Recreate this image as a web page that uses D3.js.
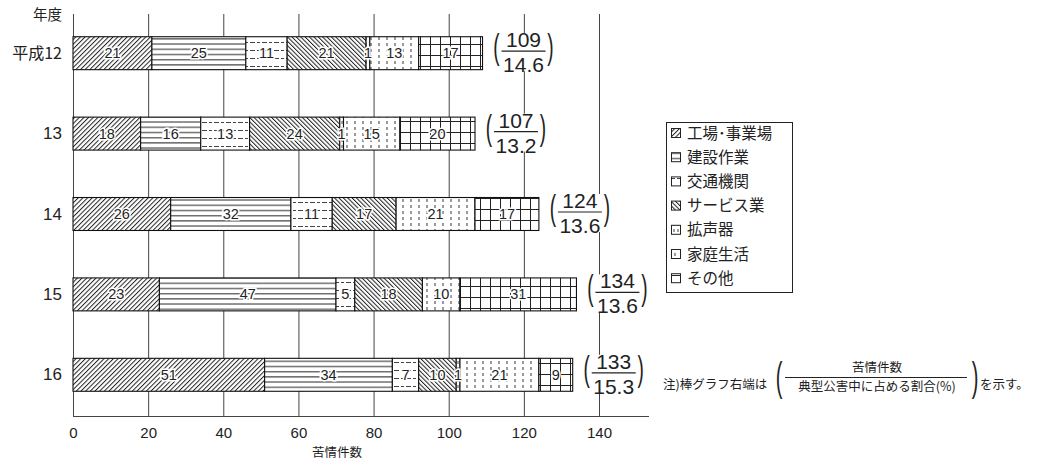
<!DOCTYPE html>
<html><head><meta charset="utf-8">
<script src="https://cdn.jsdelivr.net/npm/d3@7"></script>
<style>
html,body{margin:0;padding:0;background:#fff;}
svg{display:block;}
</style>
</head><body>
<svg id="chart" width="1037" height="463"></svg>
<script>
// ---- data ----
const years = ["平成12", "13", "14", "15", "16"];
const categories = ["工場･事業場", "建設作業", "交通機関", "サービス業", "拡声器", "家庭生活", "その他"];
const factory      = [21, 18, 26, 23, 51];
const construction = [25, 16, 32, 47, 34];
const traffic      = [11, 13, 11, 5, 7];
const service      = [21, 24, 17, 18, 10];
const speaker      = [1, 1, 0, 0, 1];
const household    = [13, 15, 21, 10, 21];
const other        = [17, 20, 17, 31, 9];
const totals = [109, 107, 124, 134, 133];
const shares = ["14.6", "13.2", "13.6", "13.6", "15.3"];
const xTicks = [0, 20, 40, 60, 80, 100, 120, 140];

const series = [factory, construction, traffic, service, speaker, household, other];
const rows = years.map((y, i) => {
  const r = {year: y};
  categories.forEach((c, k) => r[c] = series[k][i]);
  return r;
});

const svg = d3.select("#chart");
const JP = "'Noto Sans CJK JP','Noto Sans',sans-serif";
const LAT = "'Liberation Sans',Arial,sans-serif";
const ink = "#222";

// ---- patterns ----
const defs = svg.append("defs");
const patIds = ["pFactory", "pConstr", "pTraffic", "pService", "pSpeaker", "pHome", "pOther"];
function pat(id, w, h, tf) {
  const p = defs.append("pattern").attr("id", id).attr("patternUnits", "userSpaceOnUse")
    .attr("width", w).attr("height", h);
  if (tf) p.attr("patternTransform", tf);
  p.append("rect").attr("width", w).attr("height", h).attr("fill", "#fff");
  return p;
}
let p;
p = pat("pFactory", 3.3, 10, "rotate(45)");
p.append("line").attr("x1", 0.5).attr("x2", 0.5).attr("y1", 0).attr("y2", 10).attr("stroke", ink).attr("stroke-width", 1);
p = pat("pConstr", 10, 5.2);
p.append("line").attr("x1", 0).attr("x2", 10).attr("y1", 2.5).attr("y2", 2.5).attr("stroke", ink).attr("stroke-width", 1);
p = pat("pTraffic", 12, 8);
p.append("line").attr("x1", 0).attr("x2", 12).attr("y1", 2.5).attr("y2", 2.5).attr("stroke", "#444").attr("stroke-width", 1).attr("stroke-dasharray", "3,2");
p = pat("pService", 3.1, 10, "rotate(-45)");
p.append("line").attr("x1", 0.5).attr("x2", 0.5).attr("y1", 0).attr("y2", 10).attr("stroke", ink).attr("stroke-width", 1);
p = pat("pSpeaker", 4, 6);
p.append("line").attr("x1", 2).attr("x2", 2).attr("y1", 1).attr("y2", 4).attr("stroke", "#444").attr("stroke-width", 1);
p = pat("pHome", 8, 6);
p.append("line").attr("x1", 3).attr("x2", 3).attr("y1", 1).attr("y2", 4).attr("stroke", "#555").attr("stroke-width", 1.2);
p = pat("pOther", 10, 11);
p.append("line").attr("x1", 0).attr("x2", 10).attr("y1", 0.5).attr("y2", 0.5).attr("stroke", ink).attr("stroke-width", 1);
p.append("line").attr("x1", 0.5).attr("x2", 0.5).attr("y1", 0).attr("y2", 11).attr("stroke", ink).attr("stroke-width", 1);

// ---- scales ----
const x = d3.scaleLinear().domain([0, 140]).range([73, 599]);
const y = d3.scaleBand().domain(years).range([13, 415]).paddingInner(0.59).paddingOuter(0.295);

// ---- grid ----
svg.append("g").selectAll("line").data(xTicks.slice(1)).join("line")
  .attr("x1", d => x(d) + 0.5).attr("x2", d => x(d) + 0.5)
  .attr("y1", 14).attr("y2", 416).attr("stroke", "#444").attr("stroke-width", 1);

// ---- axis ----
const xAxis = svg.append("g").attr("transform", "translate(0,416.5)")
  .call(d3.axisBottom(x).tickValues(xTicks).tickSize(0).tickPadding(11));
xAxis.select(".domain").remove();
xAxis.selectAll("text").attr("font-family", LAT).attr("font-size", 15).attr("fill", "#222");
svg.append("line").attr("x1", 73).attr("x2", 649).attr("y1", 416.5).attr("y2", 416.5).attr("stroke", "#444");
svg.append("line").attr("x1", 73.5).attr("x2", 73.5).attr("y1", 14).attr("y2", 416).attr("stroke", "#444");

svg.append("text").attr("x", 337).attr("y", 457).attr("text-anchor", "middle")
  .attr("font-family", JP).attr("font-size", 12.5).attr("fill", "#222").text("苦情件数");

// y labels
svg.append("text").attr("x", 62).attr("y", 20).attr("text-anchor", "end")
  .attr("font-family", JP).attr("font-size", 14.5).attr("fill", "#222").text("年度");
svg.append("g").selectAll("text").data(years).join("text")
  .attr("x", 62).attr("y", d => y(d) + y.bandwidth() / 2 + 5.5).attr("text-anchor", "end")
  .attr("font-family", (d, i) => i === 0 ? JP : LAT).attr("font-size", (d, i) => i === 0 ? 16 : 17)
  .attr("fill", "#222").text(d => d);

// ---- bars ----
const stack = d3.stack().keys(categories)(rows);
const bars = svg.append("g");
stack.forEach((layer, k) => {
  bars.append("g").selectAll("rect").data(layer).join("rect")
    .attr("x", d => x(d[0])).attr("width", d => x(d[1]) - x(d[0]))
    .attr("y", d => y(d.data.year)).attr("height", y.bandwidth())
    .attr("fill", `url(#${patIds[k]})`).attr("stroke", "#111").attr("stroke-width", 1.1);
});
stack.forEach((layer, k) => {
  bars.append("g").selectAll("text").data(layer.filter(d => d[1] - d[0] > 0)).join("text")
    .attr("x", d => (x(d[0]) + x(d[1])) / 2).attr("y", d => y(d.data.year) + y.bandwidth() / 2 + 5)
    .attr("text-anchor", "middle").attr("font-family", LAT).attr("font-size", 14.5).attr("fill", "#222")
    .attr("stroke", "#fff").attr("stroke-width", 3).attr("paint-order", "stroke")
    .text(d => d[1] - d[0]);
});

// ---- thin paren helper ----
function paren(g, ch, px, cy, scaleY, size) {
  g.append("text").attr("transform", `translate(${px},${cy}) scale(1,${scaleY})`)
    .attr("y", size * 0.26).attr("text-anchor", "middle")
    .attr("font-family", LAT).attr("font-size", size).attr("fill", "#222").text(ch);
}

// ---- annotations (total / share) ----
years.forEach((yr, i) => {
  const xe = x(totals[i]);
  const cy = y(yr) + y.bandwidth() / 2;
  const g = svg.append("g");
  g.append("rect").attr("x", xe + 8).attr("y", cy - 20).attr("width", 66).attr("height", 38).attr("fill", "#fff");
  paren(g, "(", xe + 14, cy - 3, 1.8, 19);
  paren(g, ")", xe + 68, cy - 3, 1.8, 19);
  g.append("line").attr("x1", xe + 19).attr("x2", xe + 63).attr("y1", cy - 2).attr("y2", cy - 2).attr("stroke", "#222").attr("stroke-width", 1.2);
  g.append("text").attr("x", xe + 41).attr("y", cy - 6).attr("text-anchor", "middle")
    .attr("font-family", LAT).attr("font-size", 21).attr("fill", "#222").text(totals[i]);
  g.append("text").attr("x", xe + 41).attr("y", cy + 19).attr("text-anchor", "middle")
    .attr("font-family", LAT).attr("font-size", 21).attr("fill", "#222").text(shares[i]);
});

// ---- legend ----
const lg = svg.append("g");
lg.append("rect").attr("x", 666.5).attr("y", 122.5).attr("width", 126).attr("height", 170)
  .attr("fill", "#fff").attr("stroke", "#222");
categories.forEach((c, k) => {
  const cy = 133 + k * 24.2;
  lg.append("rect").attr("x", 671.5).attr("y", cy - 4.5).attr("width", 9).attr("height", 9)
    .attr("fill", `url(#${patIds[k]})`).attr("stroke", "#222");
  lg.append("text").attr("x", 687).attr("y", cy + 5.5).attr("font-family", JP).attr("font-size", 15.5)
    .attr("fill", "#222").text(c);
});

// ---- footnote ----
const fn = svg.append("g").attr("font-family", JP).attr("fill", "#222");
fn.append("text").attr("x", 663).attr("y", 389).attr("font-size", 12.5).text("注)棒グラフ右端は");
paren(fn, "(", 779, 381, 2.0, 20);
paren(fn, ")", 975, 381, 2.0, 20);
fn.append("line").attr("x1", 785).attr("x2", 967).attr("y1", 377.5).attr("y2", 377.5).attr("stroke", "#222");
fn.append("text").attr("x", 877).attr("y", 372).attr("text-anchor", "middle").attr("font-size", 12.5).text("苦情件数");
fn.append("text").attr("x", 877).attr("y", 391).attr("text-anchor", "middle").attr("font-size", 12.5).text("典型公害中に占める割合(%)");
fn.append("text").attr("x", 980).attr("y", 389).attr("font-size", 12.5).text("を示す。");
</script>
</body></html>
